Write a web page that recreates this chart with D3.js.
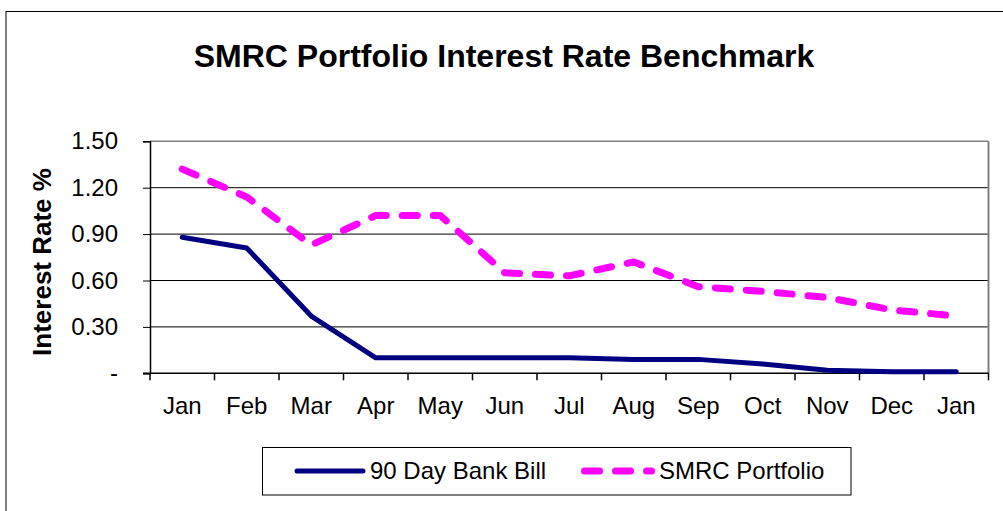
<!DOCTYPE html>
<html>
<head>
<meta charset="utf-8">
<script src="https://cdn.jsdelivr.net/npm/d3@7"></script>
<style>
  body { margin: 0; background: #fff; }
  svg { display: block; font-family: Arial, "Liberation Sans", sans-serif; }
</style>
</head>
<body>
<svg id="chart" width="1003" height="511"></svg>
<script>
// chart data
var months = ["Jan", "Feb", "Mar", "Apr", "May", "Jun", "Jul", "Aug", "Sep", "Oct", "Nov", "Dec", "Jan"];
var bankBill = [0.88, 0.81, 0.37, 0.10, 0.10, 0.10, 0.10, 0.09, 0.09, 0.06, 0.02, 0.01, 0.01];
var portfolio = [1.32, 1.14, 0.83, 1.02, 1.02, 0.65, 0.63, 0.72, 0.56, 0.53, 0.49, 0.41, 0.37];
var yTicks = [0, 0.30, 0.60, 0.90, 1.20, 1.50];
var seriesNames = ["90 Day Bank Bill", "SMRC Portfolio"];

var plot = { left: 150, right: 988.5, top: 141.3, bottom: 373.3 };

var svg = d3.select("#chart");

// outer chart border (left + top edges visible)
svg.append("line")
    .attr("x1", 6).attr("y1", 11).attr("x2", 6).attr("y2", 511)
    .style("stroke", "#808080").style("stroke-width", 2);
svg.append("line")
    .attr("x1", 6).attr("y1", 11.5).attr("x2", 1003).attr("y2", 11.5)
    .style("stroke", "#000").style("stroke-width", 1);

// title
svg.append("text")
    .attr("x", 504)
    .attr("y", 67)
    .attr("text-anchor", "middle")
    .style("font-size", "32px")
    .style("font-weight", "bold")
    .text("SMRC Portfolio Interest Rate Benchmark");

var x = d3.scaleBand()
    .domain(d3.range(months.length))
    .range([plot.left, plot.right]);

var y = d3.scaleLinear()
    .domain([0, 1.5])
    .range([plot.bottom, plot.top]);

// gridlines
svg.append("g")
    .selectAll("line")
    .data(yTicks.filter(d => d > 0))
    .enter().append("line")
    .attr("x1", plot.left)
    .attr("x2", plot.right)
    .attr("y1", d => y(d))
    .attr("y2", d => y(d))
    .style("stroke", d => d == 1.5 ? "#808080" : "#000")
    .style("stroke-width", d => d == 1.5 ? 1.5 : 1);

// right border of plot area
svg.append("line")
    .attr("x1", plot.right).attr("x2", plot.right)
    .attr("y1", plot.top).attr("y2", plot.bottom)
    .style("stroke", "#808080").style("stroke-width", 2);

// y axis
var yAxis = svg.append("g")
    .attr("transform", "translate(" + plot.left + ",0)")
    .call(d3.axisLeft(y)
        .tickValues(yTicks)
        .tickSize(7)
        .tickPadding(25)
        .tickFormat(d => d == 0 ? "-" : d.toFixed(2)));
yAxis.select(".domain").style("stroke", "#000").style("stroke-width", 1.5);
yAxis.selectAll("text")
    .style("font-size", "24px")
    .style("font-family", "Arial, 'Liberation Sans', sans-serif")
    .attr("fill", "#000");

// x axis: ticks between categories
svg.append("line")
    .attr("x1", plot.left - 7).attr("x2", plot.right)
    .attr("y1", plot.bottom).attr("y2", plot.bottom)
    .style("stroke", "#000").style("stroke-width", 1.5);

svg.append("g")
    .selectAll("line")
    .data(d3.range(months.length + 1))
    .enter().append("line")
    .attr("x1", i => plot.left + i * x.step())
    .attr("x2", i => plot.left + i * x.step())
    .attr("y1", plot.bottom)
    .attr("y2", plot.bottom + 7)
    .style("stroke", "#000").style("stroke-width", 1.5);

svg.append("g")
    .selectAll("text")
    .data(months)
    .enter().append("text")
    .attr("x", (d, i) => x(i) + x.bandwidth() / 2)
    .attr("y", 414)
    .attr("text-anchor", "middle")
    .style("font-size", "24px")
    .text(d => d);

// y axis label
svg.append("text")
    .attr("transform", "rotate(-90)")
    .attr("x", -262)
    .attr("y", 51)
    .attr("text-anchor", "middle")
    .style("font-size", "26px")
    .style("font-weight", "bold")
    .text("Interest Rate %");

// lines
var line = d3.line()
    .x((d, i) => x(i) + x.bandwidth() / 2)
    .y(d => y(d));

svg.append("path")
    .datum(bankBill)
    .attr("d", line)
    .style("fill", "none")
    .style("stroke", "#000080")
    .style("stroke-width", 5)
    .style("stroke-linejoin", "round")
    .style("stroke-linecap", "round");

svg.append("path")
    .datum(portfolio)
    .attr("d", line)
    .style("fill", "none")
    .style("stroke", "#ff00ff")
    .style("stroke-width", 7)
    .style("stroke-dasharray", "15,16")
    .style("stroke-linecap", "round")
    .style("stroke-linejoin", "round");

// legend
var legend = svg.append("g");
legend.append("rect")
    .attr("x", 262.5).attr("y", 447.5)
    .attr("width", 588.5).attr("height", 47.5)
    .style("fill", "#fff")
    .style("stroke", "#000")
    .style("stroke-width", 1);

legend.append("line")
    .attr("x1", 297).attr("x2", 363)
    .attr("y1", 471).attr("y2", 471)
    .style("stroke", "#000080")
    .style("stroke-width", 5)
    .style("stroke-linecap", "round");

legend.append("text")
    .attr("x", 370).attr("y", 479)
    .style("font-size", "24px")
    .text(seriesNames[0]);

legend.append("line")
    .attr("x1", 584.5).attr("x2", 651.5)
    .attr("y1", 471).attr("y2", 471)
    .style("stroke", "#ff00ff")
    .style("stroke-width", 7)
    .style("stroke-dasharray", "15,16")
    .style("stroke-linecap", "round");

legend.append("text")
    .attr("x", 659).attr("y", 479)
    .style("font-size", "24px")
    .text(seriesNames[1]);
</script>
</body>
</html>
